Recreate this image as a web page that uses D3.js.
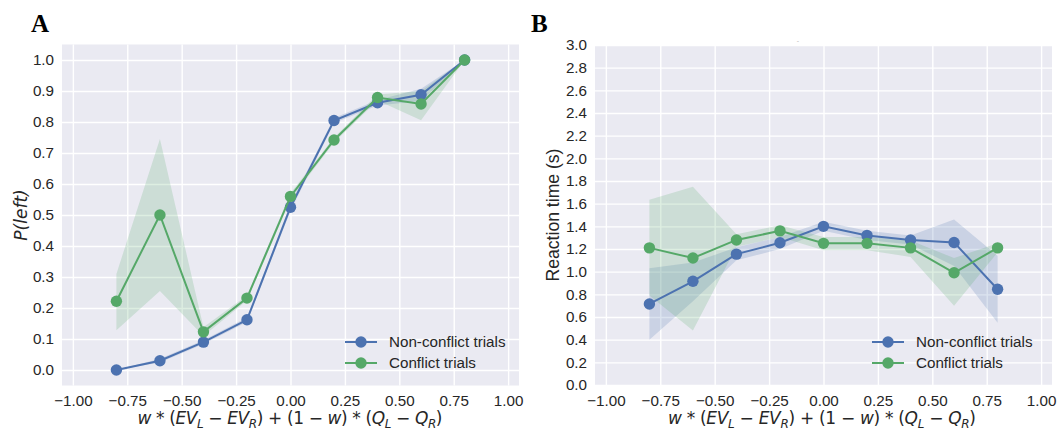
<!DOCTYPE html>
<html>
<head>
<meta charset="utf-8">
<script src="https://cdn.jsdelivr.net/npm/d3@7"></script>
<style>
  html, body { margin: 0; padding: 0; background: #fff; }
  svg { display: block; }
  .tick text { font-family: "Liberation Sans", Arial, sans-serif; font-size: 15.2px; fill: #262626; }
</style>
</head>
<body>
<svg id="chart" width="1060" height="431"></svg>
<script>
// Binned predictor values (x positions of every point)
const bins = [-0.8, -0.6, -0.4, -0.2, 0.0, 0.2, 0.4, 0.6, 0.8];

// Panel A: probability of choosing left
const pLeftNonConflict      = [0.000, 0.030, 0.090, 0.162, 0.525, 0.805, 0.862, 0.888, 1.000];
const pLeftNonConflictLow   = [0.000, 0.024, 0.084, 0.155, 0.514, 0.797, 0.853, 0.868, 1.000];
const pLeftNonConflictHigh  = [0.000, 0.036, 0.096, 0.169, 0.536, 0.813, 0.871, 0.907, 1.000];
const pLeftConflict         = [0.222, 0.500, 0.123, 0.232, 0.560, 0.742, 0.879, 0.858, 1.000];
const pLeftConflictLow      = [0.128, 0.255, 0.110, 0.224, 0.550, 0.734, 0.869, 0.806, 1.000];
const pLeftConflictHigh     = [0.310, 0.745, 0.138, 0.240, 0.570, 0.750, 0.889, 0.900, 1.000];

// Panel B: reaction time in seconds
const rtNonConflict         = [0.715, 0.915, 1.155, 1.255, 1.400, 1.320, 1.280, 1.258, 0.845];
const rtNonConflictLow      = [0.400, 0.740, 1.100, 1.200, 1.360, 1.280, 1.240, 1.050, 0.550];
const rtNonConflictHigh     = [1.030, 1.080, 1.215, 1.305, 1.440, 1.360, 1.320, 1.460, 1.140];
const rtConflict            = [1.210, 1.120, 1.280, 1.360, 1.250, 1.250, 1.210, 0.990, 1.210];
const rtConflictLow         = [0.790, 0.480, 1.220, 1.305, 1.190, 1.190, 1.130, 0.700, 1.170];
const rtConflictHigh        = [1.635, 1.750, 1.330, 1.410, 1.305, 1.305, 1.275, 1.120, 1.250];

// Axis ticks
const xTicks  = [-1.0, -0.75, -0.5, -0.25, 0.0, 0.25, 0.5, 0.75, 1.0];
const yTicksA = [0.0, 0.1, 0.2, 0.3, 0.4, 0.5, 0.6, 0.7, 0.8, 0.9, 1.0];
const yTicksB = [0.0, 0.2, 0.4, 0.6, 0.8, 1.0, 1.2, 1.4, 1.6, 1.8, 2.0, 2.2, 2.4, 2.6, 2.8, 3.0];

const seriesNames = ["Non-conflict trials", "Conflict trials"];
const colors = ["#4C72B0", "#55A868"];

const svg = d3.select("#chart");

function series(values, low, high) {
  return bins.map((b, i) => ({ x: b, y: values[i], lo: low[i], hi: high[i] }));
}

// x axis label written as math: italic symbols, subscripted L / R
function drawXLabel(g, cx, cy, width) {
  const t = g.append("text")
    .attr("x", cx).attr("y", cy)
    .attr("text-anchor", "middle")
    .attr("font-family", "DejaVu Sans, sans-serif")
    .attr("font-size", 17)
    .attr("fill", "#262626");
  const parts = [
    ["w", true], [" * (", false], ["EV", true], ["L", true, "sub"], [" \u2212 ", false],
    ["EV", true], ["R", true, "sub"], [") + (1 \u2212 ", false], ["w", true], [") * (", false],
    ["Q", true], ["L", true, "sub"], [" \u2212 ", false], ["Q", true], ["R", true, "sub"], [")", false]
  ];
  parts.forEach((p, i) => {
    const s = t.append("tspan").text(p[0]).attr("font-style", p[1] ? "italic" : "normal");
    const prevSub = i > 0 && parts[i - 1][2] === "sub";
    if (p[2] === "sub") s.attr("font-size", 12).attr("dy", 4);
    else if (prevSub) s.attr("dy", -4);
  });
  t.attr("textLength", width).attr("lengthAdjust", "spacing");
}

function drawPanel(opt) {
  const x = d3.scaleLinear().domain([-1.05, 1.05]).range([opt.left, opt.right]);
  const y = d3.scaleLinear().domain(opt.yDomain).range([opt.bottom, opt.top]);
  const g = svg.append("g");

  g.append("rect")
    .attr("x", opt.left).attr("y", opt.top)
    .attr("width", opt.right - opt.left).attr("height", opt.bottom - opt.top)
    .attr("fill", "#EAEAF2");

  // grid lines
  g.append("g")
    .attr("transform", `translate(0,${opt.bottom})`)
    .call(d3.axisBottom(x).tickValues(xTicks).tickSize(-(opt.bottom - opt.top)).tickFormat(""))
    .call(a => a.select(".domain").remove())
    .call(a => a.selectAll("line").attr("stroke", "#fff").attr("stroke-width", 1.4));
  g.append("g")
    .attr("transform", `translate(${opt.left},0)`)
    .call(d3.axisLeft(y).tickValues(opt.yTicks).tickSize(-(opt.right - opt.left)).tickFormat(""))
    .call(a => a.select(".domain").remove())
    .call(a => a.selectAll("line").attr("stroke", "#fff").attr("stroke-width", 1.4));

  // tick labels
  g.append("g")
    .attr("transform", `translate(0,${opt.bottom})`)
    .call(d3.axisBottom(x).tickValues(xTicks).tickSize(0).tickPadding(10).tickFormat(d3.format(".2f")))
    .call(a => a.select(".domain").remove());
  g.append("g")
    .attr("transform", `translate(${opt.left},0)`)
    .call(d3.axisLeft(y).tickValues(opt.yTicks).tickSize(0).tickPadding(8).tickFormat(d3.format(".1f")))
    .call(a => a.select(".domain").remove());

  const area = d3.area().x(d => x(d.x)).y0(d => y(d.lo)).y1(d => y(d.hi));
  const line = d3.line().x(d => x(d.x)).y(d => y(d.y));

  opt.data.forEach((s, k) => {
    g.append("path").attr("d", area(s)).attr("fill", colors[k]).attr("fill-opacity", 0.2);
  });
  opt.data.forEach((s, k) => {
    g.append("path").attr("d", line(s)).attr("fill", "none")
      .attr("stroke", colors[k]).attr("stroke-width", 2);
    g.selectAll(null).data(s).enter().append("circle")
      .attr("cx", d => x(d.x)).attr("cy", d => y(d.y)).attr("r", 5.7)
      .attr("fill", colors[k]);
  });

  // legend
  const lg = g.append("g");
  seriesNames.forEach((name, k) => {
    const ly = opt.legendY + k * 21;
    lg.append("line")
      .attr("x1", opt.legendX - 16).attr("x2", opt.legendX + 16)
      .attr("y1", ly).attr("y2", ly)
      .attr("stroke", colors[k]).attr("stroke-width", 2);
    lg.append("circle").attr("cx", opt.legendX).attr("cy", ly).attr("r", 5.7).attr("fill", colors[k]);
    lg.append("text")
      .attr("x", opt.legendX + 28).attr("y", ly + 5.4)
      .attr("font-family", "Liberation Sans, Arial, sans-serif")
      .attr("font-size", 15.2).attr("fill", "#262626")
      .text(name);
  });

  // axis labels
  drawXLabel(g, opt.xLabelX, 424, opt.xLabelWidth);
  const yl = g.append("text")
    .attr("transform", `translate(${opt.yLabelX},${(opt.top + opt.bottom) / 2}) rotate(-90)`)
    .attr("text-anchor", "middle")
    .attr("fill", "#262626");
  if (opt.yLabelItalic) {
    yl.attr("font-family", "DejaVu Sans, sans-serif").attr("font-size", 17)
      .attr("font-style", "italic").text(opt.yLabel);
  } else {
    yl.attr("font-family", "Liberation Sans, Arial, sans-serif").attr("font-size", 17.6)
      .text(opt.yLabel);
  }

  // panel letter
  svg.append("text")
    .attr("x", opt.letterX).attr("y", 32)
    .attr("font-family", "Liberation Serif, Times New Roman, serif")
    .attr("font-weight", "bold").attr("font-size", 25)
    .attr("fill", "#000")
    .text(opt.letter);

  return { x, y, g };
}

drawPanel({
  left: 62, right: 519, top: 44.5, bottom: 385.5,
  yDomain: [-0.05, 1.05], yTicks: yTicksA,
  data: [
    series(pLeftNonConflict, pLeftNonConflictLow, pLeftNonConflictHigh),
    series(pLeftConflict, pLeftConflictLow, pLeftConflictHigh)
  ],
  legendX: 361, legendY: 342,
  xLabelX: 290, xLabelWidth: 305,
  yLabel: "P(left)", yLabelItalic: true, yLabelX: 27,
  letter: "A", letterX: 31
});

const b = drawPanel({
  left: 595, right: 1052, top: 45, bottom: 385,
  yDomain: [0, 3], yTicks: yTicksB,
  data: [
    series(rtNonConflict, rtNonConflictLow, rtNonConflictHigh),
    series(rtConflict, rtConflictLow, rtConflictHigh)
  ],
  legendX: 888, legendY: 342,
  xLabelX: 822, xLabelWidth: 308,
  yLabel: "Reaction time (s)", yLabelItalic: false, yLabelX: 559,
  letter: "B", letterX: 531
});

// small title mark above panel B
b.g.append("text")
  .attr("x", 798).attr("y", 43)
  .attr("text-anchor", "middle")
  .attr("font-family", "Liberation Sans, Arial, sans-serif")
  .attr("font-size", 7).attr("fill", "#bbbbbb")
  .text("-");
</script>
</body>
</html>
